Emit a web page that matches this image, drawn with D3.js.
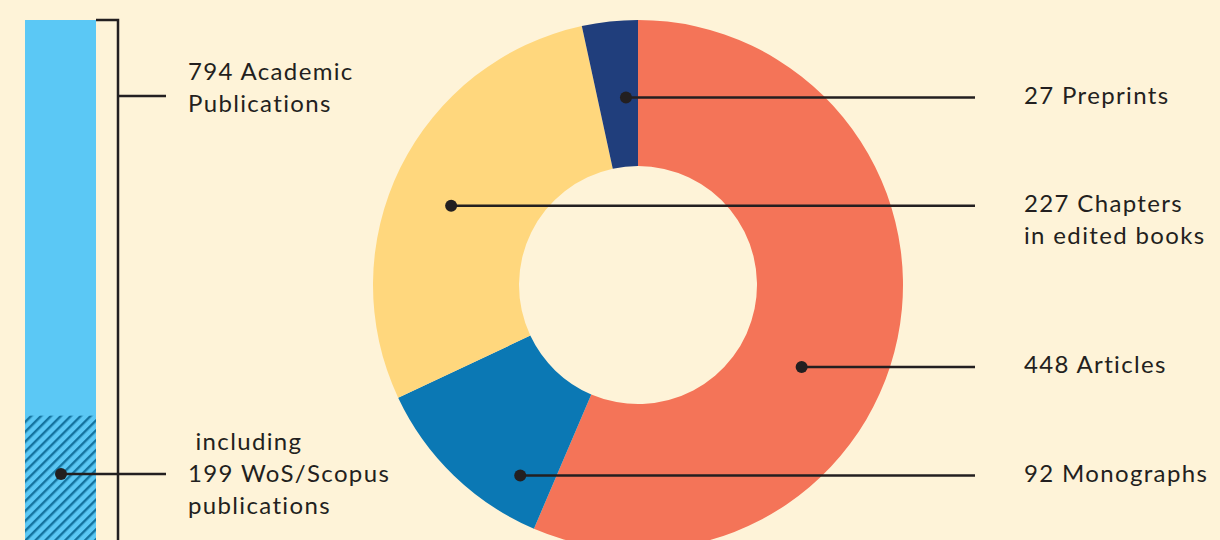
<!DOCTYPE html>
<html>
<head>
<meta charset="utf-8">
<script src="https://cdn.jsdelivr.net/npm/d3@7"></script>
<style>
  html, body { margin: 0; padding: 0; background: #fef3d8; }
  svg { display: block; }
</style>
</head>
<body>
<div class="canvas"></div>
<script>
// data
const totalPublications = 794;
const indexedPublications = 199;
const categories = ['Articles', 'Monographs', 'Chapters in edited books', 'Preprints'];
const counts = [448, 92, 227, 27];
const sliceColors = ['#f47458', '#0b78b4', '#ffd77d', '#203e7c'];
const sliceLabels = [['448 Articles'], ['92 Monographs'], ['227 Chapters', 'in edited books'], ['27 Preprints']];
const barLabels = [['794 Academic', 'Publications'], [' including', '199 WoS/Scopus', 'publications']];

// layout
const W = 1220, H = 540;
const ink = '#231f20';
const font = 'Lato, "Open Sans", sans-serif';
const fontSize = 24;
const lineGap = 32;
// where each leader dot sits inside its slice: [fraction along slice, radius]
const anchors = [[0.574, 183], [0.206, 224], [0.468, 203], [0.70, 188]];

const svg = d3.select('.canvas').append('svg')
    .attr('width', W)
    .attr('height', H);

svg.append('rect')
    .attr('width', W)
    .attr('height', H)
    .attr('fill', '#fef3d8');

// hatch pattern for the indexed part of the bar
const defs = svg.append('defs');
const pat = defs.append('pattern')
    .attr('id', 'hatch')
    .attr('patternUnits', 'userSpaceOnUse')
    .attr('width', 7)
    .attr('height', 7)
    .attr('patternTransform', 'rotate(45)');
pat.append('rect').attr('width', 7).attr('height', 7).attr('fill', '#5bc8f5');
pat.append('rect').attr('x', 0).attr('width', 2.4).attr('height', 7).attr('fill', '#14739f');

// ---- left bar ----
const barX = 25, barW = 71;
const y = d3.scaleLinear().domain([0, totalPublications]).range([548, 20]);

svg.append('rect')
    .attr('x', barX)
    .attr('y', y(totalPublications))
    .attr('width', barW)
    .attr('height', y(0) - y(totalPublications))
    .attr('fill', '#5bc8f5');

svg.append('rect')
    .attr('x', barX)
    .attr('y', y(indexedPublications))
    .attr('width', barW)
    .attr('height', y(0) - y(indexedPublications))
    .attr('fill', 'url(#hatch)');

// bracket
const brX = 118;
svg.append('path')
    .attr('d', `M${barX + barW},${y(totalPublications)}H${brX}V${H + 10}`)
    .attr('fill', 'none')
    .attr('stroke', ink)
    .attr('stroke-width', 2.5);

svg.append('line')
    .attr('x1', brX).attr('x2', 166)
    .attr('y1', 96).attr('y2', 96)
    .attr('stroke', ink).attr('stroke-width', 2.5);

const hatchDotY = 474;
svg.append('line')
    .attr('x1', barX + barW / 2 + 0.5).attr('x2', 166)
    .attr('y1', hatchDotY).attr('y2', hatchDotY)
    .attr('stroke', ink).attr('stroke-width', 2.5);
svg.append('circle')
    .attr('cx', barX + barW / 2 + 0.5)
    .attr('cy', hatchDotY)
    .attr('r', 6)
    .attr('fill', ink);

function addLabel(x, yMid, lines) {
    const t = svg.append('text')
        .attr('x', x)
        .attr('y', yMid)
        .attr('fill', ink)
        .style('font-family', font)
        .style('font-size', fontSize + 'px')
        .style('letter-spacing', '1.35px')
        .attr('xml:space', 'preserve');
    lines.forEach((l, i) => {
        t.append('tspan')
            .attr('x', x)
            .attr('y', yMid + i * lineGap)
            .attr('dy', '0.35em')
            .text(l);
    });
}

addLabel(188, 72, barLabels[0]);
addLabel(188, 442, barLabels[1]);

// ---- donut ----
const cx = 638, cy = 285, rOut = 265, rIn = 119;
const g = svg.append('g').attr('transform', `translate(${cx},${cy})`);

const pie = d3.pie().sort(null).value(d => d)(counts);
const arc = d3.arc().innerRadius(rIn).outerRadius(rOut);

g.selectAll('path.slice')
    .data(pie)
    .join('path')
    .attr('class', 'slice')
    .attr('d', arc)
    .attr('fill', (d, i) => sliceColors[i]);

// leaders
const lineEnd = 975, labelX = 1024;
pie.forEach((d, i) => {
    const a = d.startAngle + (d.endAngle - d.startAngle) * anchors[i][0];
    const px = cx + anchors[i][1] * Math.sin(a);
    const py = cy - anchors[i][1] * Math.cos(a);
    svg.append('line')
        .attr('x1', px).attr('x2', lineEnd)
        .attr('y1', py).attr('y2', py)
        .attr('stroke', ink).attr('stroke-width', 2.5);
    svg.append('circle')
        .attr('cx', px).attr('cy', py)
        .attr('r', 6).attr('fill', ink);
    addLabel(labelX, py - 2, sliceLabels[i]);
});
</script>
</body>
</html>
